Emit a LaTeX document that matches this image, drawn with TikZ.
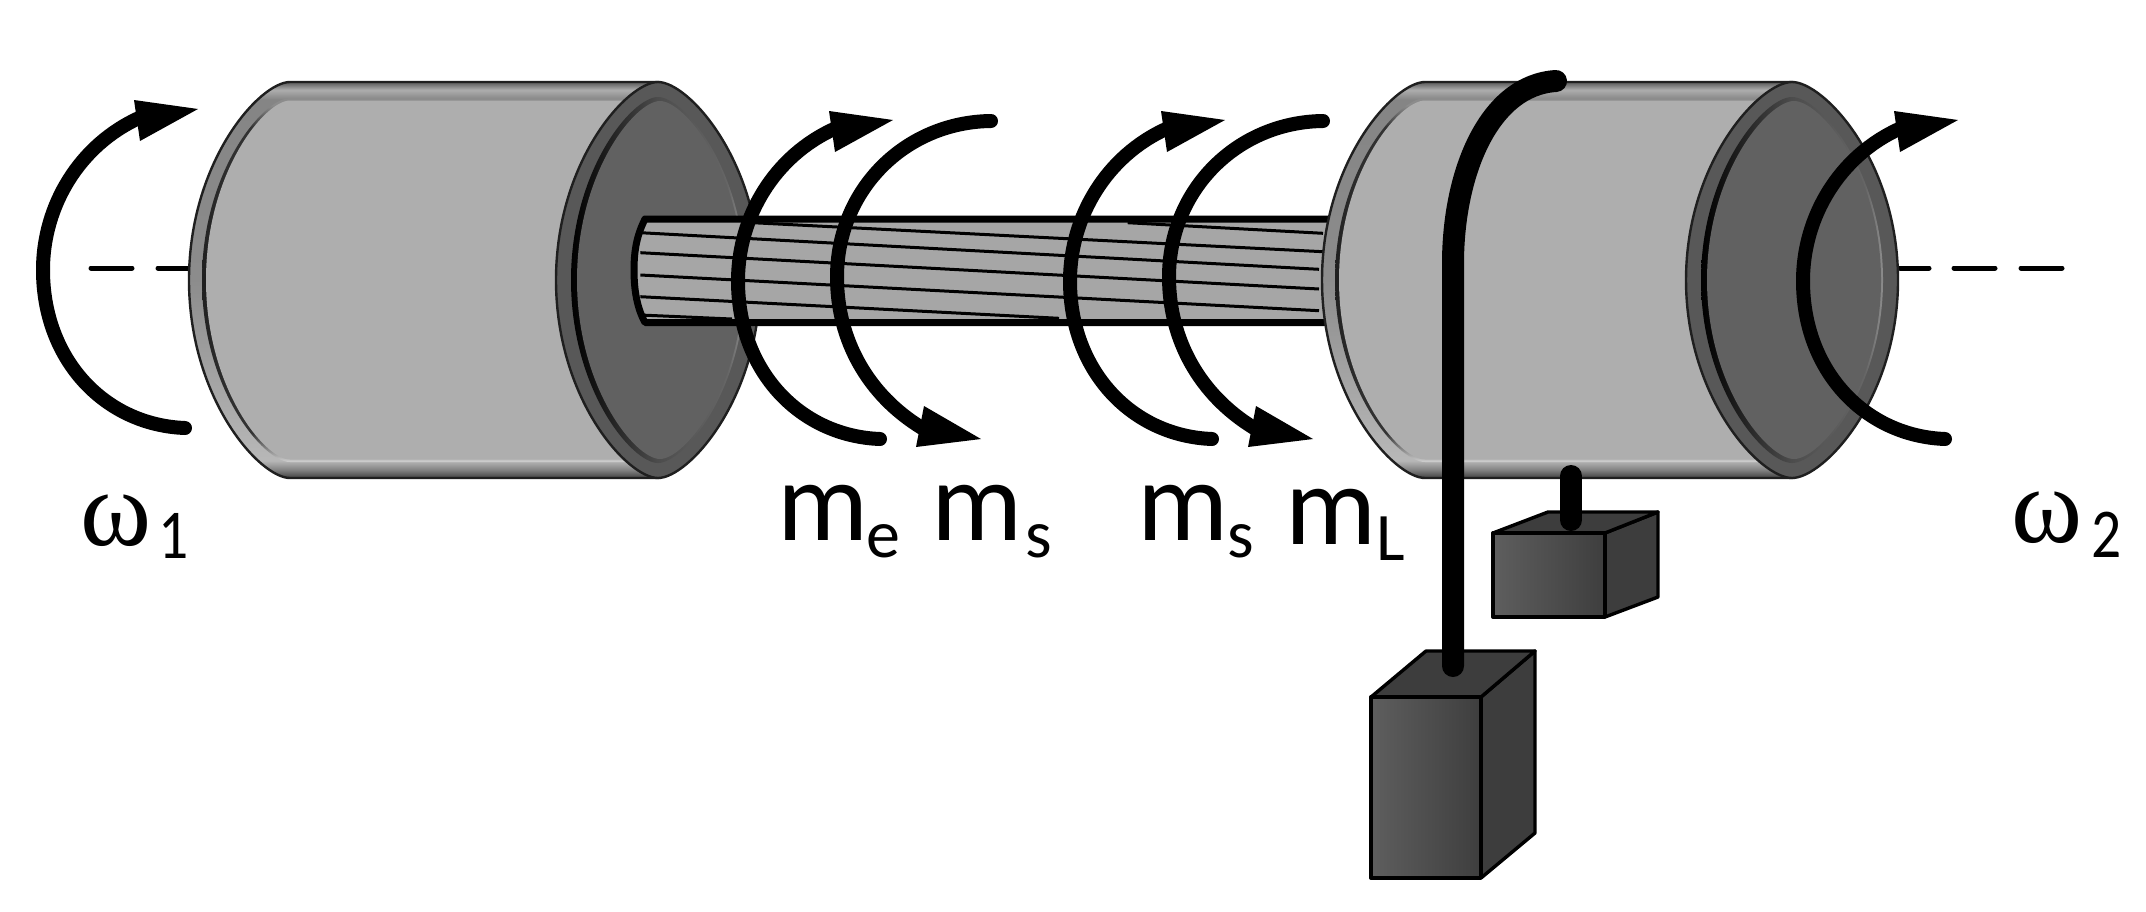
\documentclass[tikz,border=0pt]{standalone}
\usepackage{fontspec}
\setmainfont{Carlito}
\newfontfamily\greekf{Liberation Serif}
\definecolor{faceA}{HTML}{AEAEAE}
\definecolor{endA}{HTML}{616161}
\definecolor{endRim}{HTML}{585858}
\definecolor{shaftG}{HTML}{A6A6A6}
\definecolor{boxL}{HTML}{5E5E5E}
\definecolor{boxR}{HTML}{3E3E3E}
\definecolor{boxS}{HTML}{3D3D3D}
\pgfdeclareverticalshading{rimV}{100bp}{
 color(0bp)=(black!75); color(25bp)=(black!75); color(26bp)=(black!50); color(27.2bp)=(black!28);
 color(50bp)=(black!45); color(72.8bp)=(black!48); color(74bp)=(black!32); color(75bp)=(black!65); color(100bp)=(black!65)}
\pgfdeclareverticalshading{ringV}{100bp}{
 color(0bp)=(black!18); color(25bp)=(black!18); color(26bp)=(black!35); color(29bp)=(black!80);
 color(50bp)=(black!88); color(71bp)=(black!80); color(74bp)=(black!45); color(75bp)=(black!45); color(100bp)=(black!45)}
\pgfdeclarehorizontalshading{ringH}{100bp}{
 color(0bp)=(black); color(25bp)=(black); color(32bp)=(black!92); color(50bp)=(black!70);
 color(70bp)=(black!60); color(75bp)=(black!45); color(100bp)=(black!45)}
% a lens outline: long handles at the sides, short ones at top and bottom
\newcommand{\lensat}[5]{\path[#5] ({(#1)-(#3)},{#2}) .. controls ({(#1)-(#3)},{#2-.6*(#4)}) and ({(#1)-.3*(#3)},{#2-(#4)}) .. ({#1},{#2-(#4)})
  .. controls ({(#1)+.3*(#3)},{#2-(#4)}) and ({(#1)+(#3)},{#2-.6*(#4)}) .. ({(#1)+(#3)},{#2})
  .. controls ({(#1)+(#3)},{#2+.6*(#4)}) and ({(#1)+.3*(#3)},{#2+(#4)}) .. ({#1},{#2+(#4)})
  .. controls ({(#1)-.3*(#3)},{#2+(#4)}) and ({(#1)-(#3)},{#2+.6*(#4)}) .. cycle;}
% left half of a lens, straight sides, right end
\newcommand{\bodyat}[6]{\path[#6] ({(#1)-(#2)},{#5}) .. controls ({(#1)-(#2)},{#5-.6*(#4)}) and ({(#1)-.3*(#2)},{#5-(#4)}) .. ({#1},{#5-(#4)})
  -- ({#3},{#5-(#4)}) -- ({#3},{#5+(#4)}) -- ({#1},{#5+(#4)})
  .. controls ({(#1)-.3*(#2)},{#5+(#4)}) and ({(#1)-(#2)},{#5+.6*(#4)}) .. cycle;}
\newcommand{\drum}[4]{% left centre, left rx, right centre, right rx
  \bodyat{#1}{#2}{#3}{198}{280}{shading=rimV,draw=black!88,line width=2.4pt}
  \bodyat{#1}{#2-13}{#3}{182}{280}{shading=ringV}
  \bodyat{#1}{#2-17}{#3}{179.5}{280}{fill=faceA}
  \lensat{#3}{280}{#4}{198}{fill=endRim,draw=black!88,line width=2.4pt}
  \lensat{#3}{280}{#4-15}{183}{shading=ringH}
  \lensat{#3+2}{280}{#4-19}{179}{fill=endA}
}
\tikzset{
  turn/.style={line width=14pt,line cap=round,black},
  head/.style={fill=black,draw=none},
  axisdash/.style={line width=5pt,line cap=round,black},
  edge/.style={draw=black,line width=3.4pt,line join=round},
  rope/.style={line width=22pt,line cap=round,black},
  strand/.style={line width=3pt,black},
  big/.style={inner sep=0pt,anchor=base west,font=\fontsize{114}{120}\selectfont},
  small/.style={inner sep=0pt,anchor=base west,font=\fontsize{68}{80}\selectfont},
  digit/.style={inner sep=0pt,anchor=base west,font=\fontsize{70}{80}\selectfont},
  omega/.style={inner sep=0pt,anchor=base west,font=\greekf\fontsize{108}{120}\selectfont},
}
\newcommand{\liftturn}[2]{%
  \begin{scope}[shift={(#1,#2)}]
    \draw[turn] (185,428) .. controls (105,425) and (43,360) .. (43,270) .. controls (43,205) and (80,145) .. (139,118);
    \fill[head] (198,109) -- (134,100) -- (140,141) -- cycle;
  \end{scope}}
\newcommand{\dropturn}[1]{%
  \begin{scope}[shift={(#1,0)}]
    \draw[turn] (991,121) .. controls (905,122) and (837,190) .. (837,277) .. controls (837,340) and (868,395) .. (922,428);
    \fill[head] (981,439) -- (924,406) -- (916,447) -- cycle;
  \end{scope}}
\begin{document}
\begin{tikzpicture}[x=1pt,y=-1pt]
\useasboundingbox (0,0) rectangle (2146,911);
\fill[white] (0,0) rectangle (2146,911);

% axis dashes
\draw[axisdash] (91,268) -- (132,268);
\draw[axisdash] (158,268) -- (189,268);
\draw[axisdash] (1900,268) -- (1929,268);
\draw[axisdash] (1954,268) -- (1995,268);
\draw[axisdash] (2021,268) -- (2062,268);

% left drum
\drum{290}{101}{658}{102}

% shaft
\begin{scope}
  \clip (645,219) .. controls (637,235) and (634,250) .. (634,270) .. controls (634,290) and (637,308) .. (645,322.5) -- (1330,322.5) -- (1330,219) -- cycle;
  \fill[shaftG] (620,215) rectangle (1330,326);
  \draw[strand] (640.4,232.7) -- (1319,269.3);
  \draw[strand] (640.4,252.7) -- (1319,289);
  \draw[strand] (640.4,275) -- (1319,310.7);
  \draw[strand] (640.4,296.7) -- (1059,318.3);
  \draw[strand] (640.4,315) -- (732,319);
  \draw[strand] (752.6,222.7) -- (1323,251.7);
  \draw[strand] (1127.6,222.7) -- (1323,233.3);
\end{scope}
\draw[line width=7pt,line join=round,black] (1330,219) -- (645,219) .. controls (637,235) and (634,250) .. (634,270) .. controls (634,290) and (637,308) .. (645,322.5) -- (1330,322.5);

% right drum
\drum{1425}{103}{1792}{106}

% weights
\fill[boxS,edge] (1605,533) -- (1658,512) -- (1658,597) -- (1605,617) -- cycle;
\fill[boxS,edge] (1493,533) -- (1548,512) -- (1658,512) -- (1605,533) -- cycle;
\shade[left color=boxL,right color=boxR,edge] (1493,533) rectangle (1605,617);
\fill[boxS,edge] (1481,697) -- (1535,651) -- (1535,833) -- (1481,878) -- cycle;
\fill[boxS,edge] (1371,697) -- (1426,651) -- (1535,651) -- (1481,697) -- cycle;
\shade[left color=boxL,right color=boxR,edge] (1371,697) rectangle (1481,878);

% ropes
\draw[rope] (1571,476) -- (1571,520);
\draw[rope] (1556,81) .. controls (1490,85) and (1454,170) .. (1453,260) -- (1453,666);

% torque arrows
\liftturn{0}{0}
\liftturn{695}{11}
\liftturn{1027}{11}
\liftturn{1760}{11}
\dropturn{0}
\dropturn{332}

% labels
\node[omega] (w1) at (80,545) {ω};
\node[digit] (w1s) at (158,558) {\scalebox{.85}[1]{1}};
\node[big] (me) at (777,540) {m};
\node[small] (mes) at (866,557) {e};
\node[big] (ms1) at (931,540) {m};
\node[small] (ms1s) at (1025,557) {s};
\node[big] (ms2) at (1137,540) {m};
\node[small] (ms2s) at (1227,557) {s};
\node[big] (ml) at (1285,544) {m};
\node[small] (mls) at (1376,560) {L};
\node[omega] (w2) at (2011,542) {ω};
\node[digit] (w2s) at (2091,557) {\scalebox{.85}[1]{2}};
\end{tikzpicture}
\end{document}
